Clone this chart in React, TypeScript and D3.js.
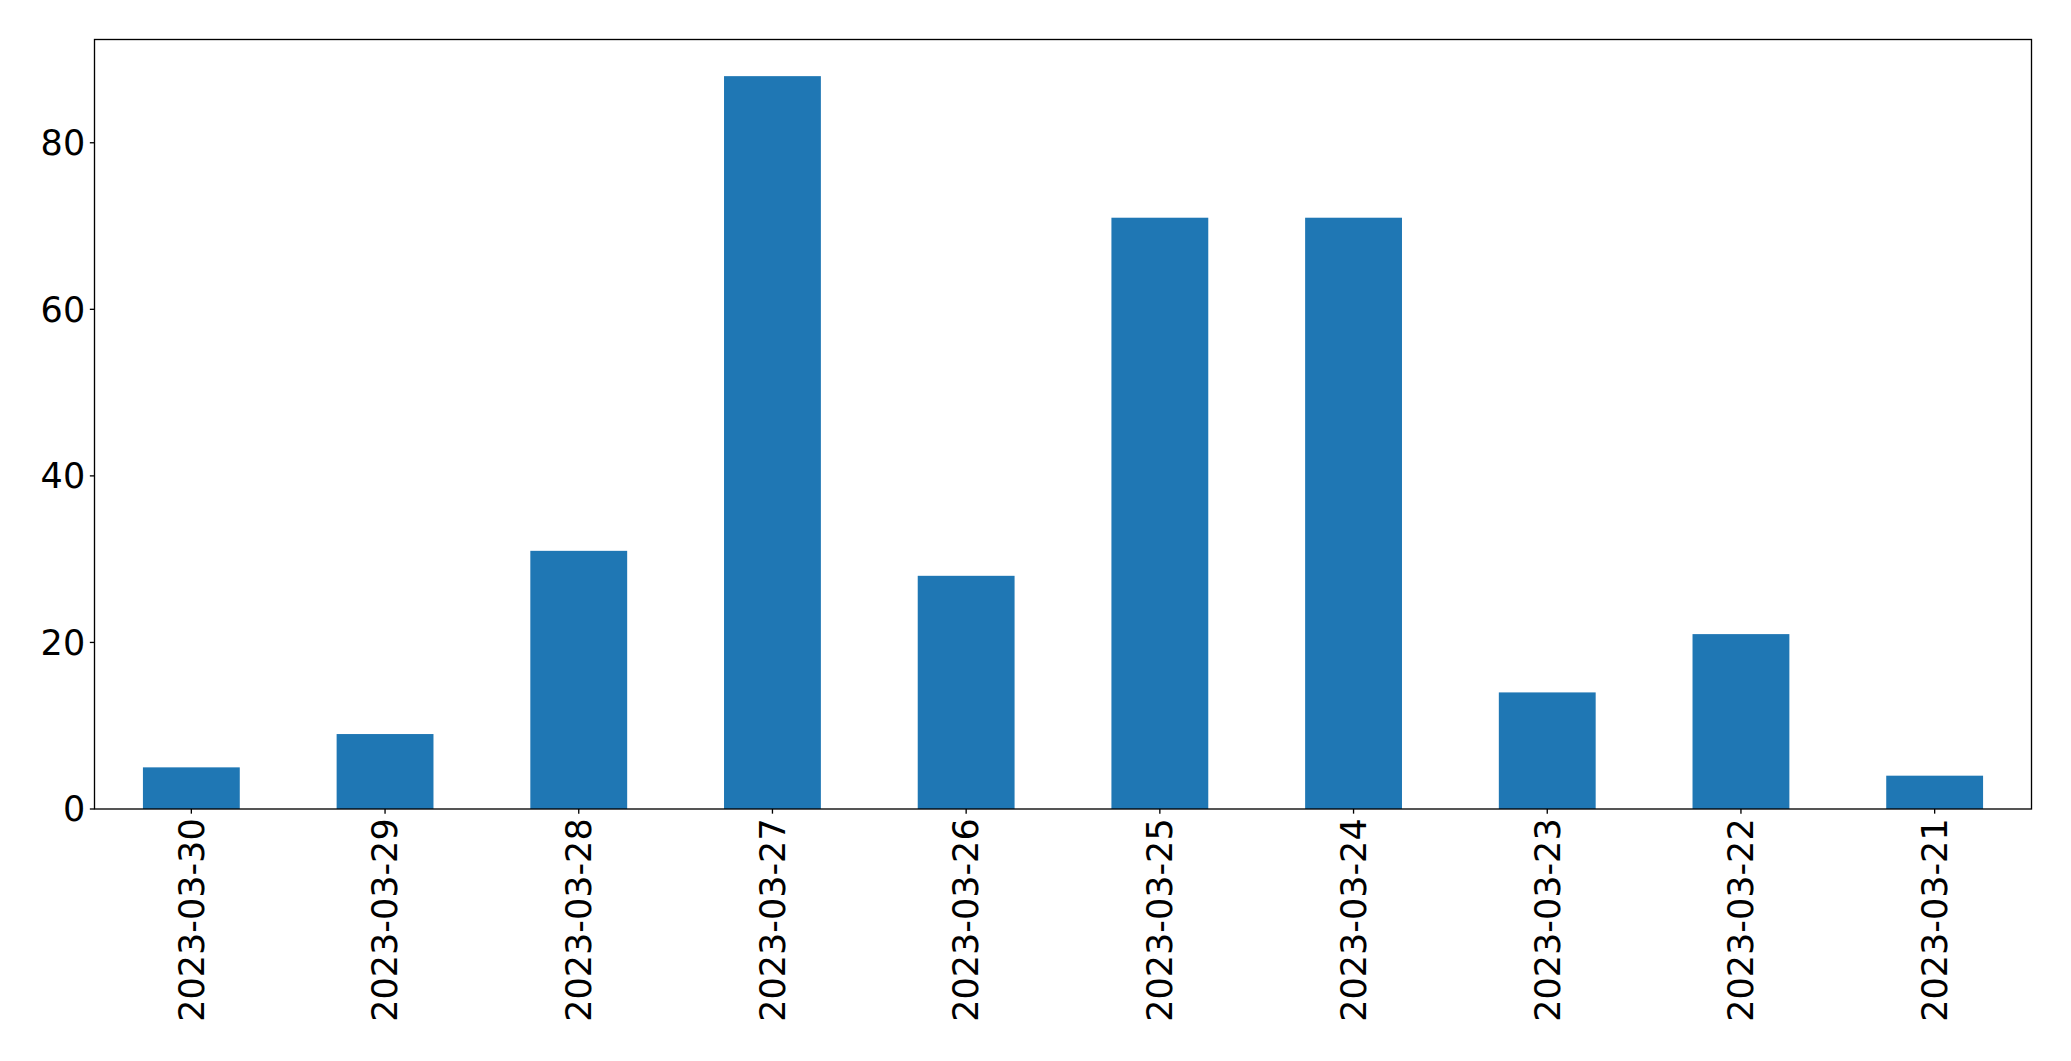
import React, { useEffect, useRef } from "react";
import * as d3 from "d3";

const categories = [
  "2023-03-30",
  "2023-03-29",
  "2023-03-28",
  "2023-03-27",
  "2023-03-26",
  "2023-03-25",
  "2023-03-24",
  "2023-03-23",
  "2023-03-22",
  "2023-03-21",
];
const values = [5, 9, 31, 88, 28, 71, 71, 14, 21, 4];
const yTicks = [0, 20, 40, 60, 80];

const W = 2071;
const H = 1061;
const M = { left: 94.5, right: 2031.5, top: 39.5, bottom: 809 };
const FONT = "'DejaVu Sans', sans-serif";
const FS = 35;
const TICK = 4.67;
const PAD = 4.67;

export default function App() {
  const ref = useRef<SVGSVGElement>(null);

  useEffect(() => {
    document.body.style.margin = "0";
    const svg = d3.select(ref.current);
    svg.selectAll("*").remove();

    const x = d3
      .scaleLinear()
      .domain([-0.5, categories.length - 0.5])
      .range([M.left, M.right]);
    const ymax = d3.max(values)! * 1.05;
    const y = d3.scaleLinear().domain([0, ymax]).range([M.bottom, M.top]);
    const bw = x(0.25) - x(-0.25);

    svg
      .append("rect")
      .attr("width", W)
      .attr("height", H)
      .attr("fill", "white");

    svg
      .append("g")
      .selectAll("rect")
      .data(values)
      .join("rect")
      .attr("x", (_, i) => x(i) - bw / 2)
      .attr("width", bw)
      .attr("y", (d) => y(d))
      .attr("height", (d) => y(0) - y(d))
      .attr("fill", "#1f77b4");

    // frame
    svg
      .append("rect")
      .attr("x", M.left)
      .attr("y", M.top)
      .attr("width", M.right - M.left)
      .attr("height", M.bottom - M.top)
      .attr("fill", "none")
      .attr("stroke", "black")
      .attr("stroke-width", 1.33);

    // y ticks
    const gy = svg.append("g");
    yTicks.forEach((t) => {
      gy.append("line")
        .attr("x1", M.left - TICK)
        .attr("x2", M.left)
        .attr("y1", y(t))
        .attr("y2", y(t))
        .attr("stroke", "black")
        .attr("stroke-width", 1.33);
      gy.append("text")
        .attr("x", M.left - TICK - PAD)
        .attr("y", y(t))
        .attr("dy", "0.35em")
        .attr("text-anchor", "end")
        .attr("font-family", FONT)
        .attr("font-size", FS)
        .attr("fill", "black")
        .text(String(t));
    });

    // x ticks
    const gx = svg.append("g");
    categories.forEach((c, i) => {
      gx.append("line")
        .attr("x1", x(i))
        .attr("x2", x(i))
        .attr("y1", M.bottom)
        .attr("y2", M.bottom + TICK)
        .attr("stroke", "black")
        .attr("stroke-width", 1.33);
      gx.append("text")
        .attr(
          "transform",
          `translate(${x(i)},${M.bottom + TICK + PAD}) rotate(-90)`
        )
        .attr("dy", "0.35em")
        .attr("text-anchor", "end")
        .attr("font-family", FONT)
        .attr("font-size", FS)
        .attr("fill", "black")
        .text(c);
    });
  }, []);

  return (
    <svg
      ref={ref}
      width={W}
      height={H}
      style={{ position: "absolute", left: 0, top: 0, display: "block" }}
    />
  );
}
